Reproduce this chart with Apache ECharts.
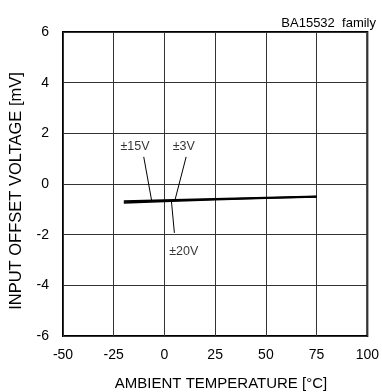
<!DOCTYPE html>
<html><head><meta charset="utf-8">
<script src="https://cdn.jsdelivr.net/npm/echarts@6/dist/echarts.min.js"></script>
<style>html,body{margin:0;padding:0;background:#fff}#c{width:382px;height:392px}</style>
</head><body><div id="c"></div>
<script>
var temps = [-20, 0, 25, 50, 75];
var v15 = [-0.71, -0.66, -0.60, -0.55, -0.50];
var v3 = [-0.67, -0.63, -0.58, -0.53, -0.49];
var v20 = [-0.75, -0.69, -0.62, -0.56, -0.51];
var leaders = [
  {name: '±15V', line: [[-10.2, 1.07], [-6.3, -0.66]], label: [-14.5, 1.46]},
  {name: '±3V', line: [[10.7, 1.07], [5.3, -0.60]], label: [9.5, 1.46]},
  {name: '±20V', line: [[3.4, -0.64], [4.9, -1.93]], label: [9.5, -2.68]}
];
var xTicks = [-50, -25, 0, 25, 50, 75, 100];
var yTicks = [-6, -4, -2, 0, 2, 4, 6];
var xName = 'AMBIENT TEMPERATURE [°C]';
var yName = 'INPUT OFFSET VOLTAGE [mV]';
var titleText = 'BA15532  family';

function pairs(xs, ys) { return xs.map(function (x, i) { return [x, ys[i]]; }); }
var font = 'Liberation Sans, Arial, sans-serif';
var series = [];
[v15, v3, v20].forEach(function (v) {
  series.push({type: 'line', data: pairs(temps, v), symbol: 'none', smooth: false,
    lineStyle: {color: '#000', width: 1.6}, z: 5, silent: true});
});
leaders.forEach(function (l) {
  series.push({type: 'line', data: l.line, symbol: 'none',
    lineStyle: {color: '#000', width: 1}, z: 6, silent: true});
  series.push({type: 'scatter', data: [l.label], symbolSize: 0, silent: true,
    label: {show: true, position: 'inside', formatter: l.name, color: '#000',
      fontSize: 12.5, fontFamily: font}});
});

var chart = echarts.init(document.getElementById('c'));
chart.setOption({
  animation: false,
  backgroundColor: '#fff',
  title: {text: titleText, right: 1, top: 12,
    textStyle: {fontSize: 13, fontWeight: 'normal', color: '#000', fontFamily: font}},
  grid: {left: 63, right: 10, top: 32, bottom: 56, show: true, borderColor: '#000', borderWidth: 2},
  graphic: [
    {type: 'text', x: 221, y: 384, silent: true,
      style: {text: xName, fill: '#000', font: '15px ' + font, align: 'center', verticalAlign: 'middle'}},
    {type: 'text', x: 16, y: 191, rotation: Math.PI / 2, silent: true,
      style: {text: yName, fill: '#000', font: '16.5px ' + font, align: 'center', verticalAlign: 'middle'}}
  ],
  xAxis: {type: 'value', min: -50, max: 100, interval: 25,
    axisLine: {show: false, onZero: false},
    axisTick: {show: false},
    axisLabel: {color: '#000', fontSize: 14, fontFamily: font, margin: 12,
      formatter: function (v) { return xTicks.indexOf(v) >= 0 ? String(v) : ''; }},
    splitLine: {show: true, lineStyle: {color: '#333', width: 1}}},
  yAxis: {type: 'value', min: -6, max: 6, interval: 2,
    axisLine: {show: false, onZero: false},
    axisTick: {show: false},
    axisLabel: {color: '#000', fontSize: 14, fontFamily: font, margin: 14,
      formatter: function (v) { return yTicks.indexOf(v) >= 0 ? String(v) : ''; }},
    splitLine: {show: true, lineStyle: {color: '#333', width: 1}}},
  series: series
});
</script></body></html>
